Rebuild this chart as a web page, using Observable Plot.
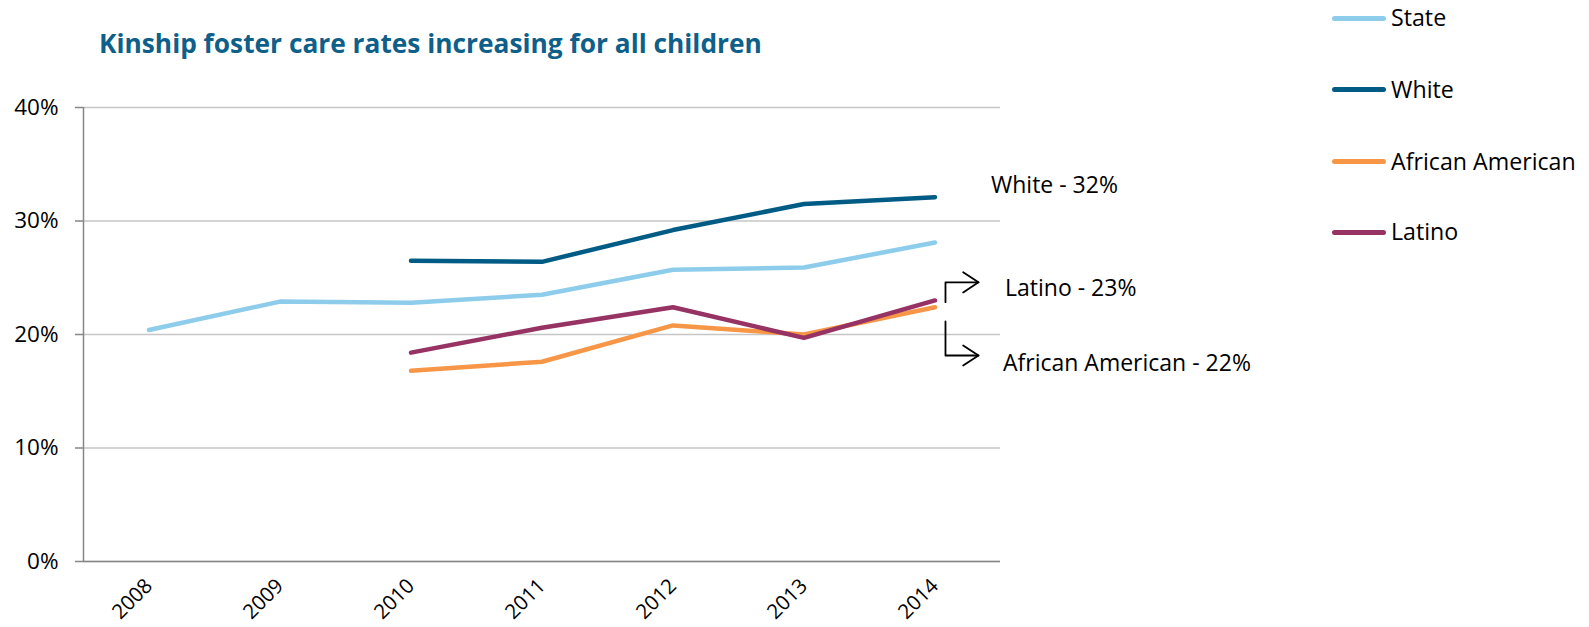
<!DOCTYPE html>
<html><head><meta charset="utf-8">
<script src="https://cdn.jsdelivr.net/npm/d3@7"></script>
<script src="https://cdn.jsdelivr.net/npm/@observablehq/plot@0.6"></script>
<style>
html,body{margin:0;padding:0;background:#fff;}
#wrap{position:relative;width:1589px;height:627px;overflow:hidden;font-family:"Open Sans",Lato,sans-serif;color:#000;}
#chart{position:absolute;left:0;top:0;}
#title{position:absolute;left:99px;top:44px;transform:translateY(-50%);font-weight:700;color:#0E5F89;font-size:26.3px;white-space:nowrap;line-height:1.2;}
.leg{position:absolute;left:1332px;display:flex;align-items:center;transform:translateY(-50%);font-size:23.2px;white-space:nowrap;line-height:1.2;}
.leg .sw{width:54px;height:5px;border-radius:3px;margin-right:5px;}
</style></head>
<body>
<div id="wrap">
  <div id="chart"></div>
  <div id="title">Kinship foster care rates increasing for all children</div>
  <div id="legend"></div>
</div>
<script>
// ---- data ----
const years = [2008, 2009, 2010, 2011, 2012, 2013, 2014];
const seriesNames = ["State", "White", "African American", "Latino"];
const seriesColors = ["#8DCDEB", "#005B85", "#F79646", "#963264"];
const state = [20.4, 22.9, 22.8, 23.5, 25.7, 25.9, 28.1];
const white = [null, null, 26.5, 26.4, 29.2, 31.5, 32.1];
const africanAmerican = [null, null, 16.8, 17.6, 20.8, 20.0, 22.4];
const latino = [null, null, 18.4, 20.6, 22.4, 19.7, 23.0];
const yTicks = [0, 10, 20, 30, 40];
const endLabels = ["White - 32%", "Latino - 23%", "African American - 22%"];
// annotation arrow geometry (data units: year, percent)
const latinoArrow = [{x: 2014.08, y: 22.85}, {x: 2014.08, y: 24.6}, {x: 2014.332, y: 24.6}];
const latinoHead = [{x: 2014.215, y: 25.49}, {x: 2014.332, y: 24.6}, {x: 2014.215, y: 23.71}];
const aaArrow = [{x: 2014.08, y: 21.15}, {x: 2014.08, y: 18.15}, {x: 2014.332, y: 18.15}];
const aaHead = [{x: 2014.215, y: 19.04}, {x: 2014.332, y: 18.15}, {x: 2014.215, y: 17.26}];

const seriesValues = [state, white, africanAmerican, latino];
const rows = [];
seriesNames.forEach((s, k) => years.forEach((yr, i) => {
  const v = seriesValues[k][i];
  if (v != null) rows.push({series: s, year: yr, value: v});
}));
const last = (arr) => ({year: years[years.length - 1], value: arr[arr.length - 1]});

const fs = 23;
const plot = Plot.plot({
  width: 1589, height: 627,
  marginLeft: 83, marginRight: 589, marginTop: 107, marginBottom: 66,
  style: {fontFamily: "'Open Sans', Lato, sans-serif", fontSize: fs + "px", color: "#000", background: "#fff"},
  x: {type: "linear", domain: [2007.5, 2014.5]},
  y: {domain: [0, 40]},
  color: {domain: seriesNames, range: seriesColors},
  marks: [
    Plot.gridY(yTicks, {stroke: "#C6C6C6", strokeOpacity: 1, strokeWidth: 1.5}),
    Plot.ruleY([0], {stroke: "#868686", strokeWidth: 1.5}),
    Plot.ruleX([2007.5], {stroke: "#868686", strokeWidth: 1.5}),
    Plot.axisY(yTicks, {tickSize: 8, tickPadding: 17, stroke: "#868686", strokeWidth: 1.5, fill: "#000", tickFormat: d => d + "%", fontSize: 22.5, label: null}),
    Plot.axisX(years, {tickSize: 0, tickPadding: 21, tickRotate: -45, tickFormat: d => String(d), fill: "#000", fontSize: 20.5, label: null}),
    Plot.line(rows, {x: "year", y: "value", z: "series", stroke: "series", strokeWidth: 4.5, strokeLinecap: "round", strokeLinejoin: "round"}),
    Plot.text([last(white)], {x: "year", y: "value", text: () => endLabels[0], textAnchor: "start", dx: 56, dy: -12, fontSize: fs, fill: "#000"}),
    Plot.text([last(latino)], {x: "year", y: "value", text: () => endLabels[1], textAnchor: "start", dx: 70, dy: -12, fontSize: fs, fill: "#000"}),
    Plot.text([last(africanAmerican)], {x: "year", y: "value", text: () => endLabels[2], textAnchor: "start", dx: 68, dy: 56, fontSize: fs, fill: "#000"}),
    Plot.line(latinoArrow, {x: "x", y: "y", stroke: "#000", strokeWidth: 1.8}),
    Plot.line(latinoHead, {x: "x", y: "y", stroke: "#000", strokeWidth: 1.8}),
    Plot.line(aaArrow, {x: "x", y: "y", stroke: "#000", strokeWidth: 1.8}),
    Plot.line(aaHead, {x: "x", y: "y", stroke: "#000", strokeWidth: 1.8})
  ]
});
document.getElementById("chart").appendChild(plot);

// legend
const legendY = [18.3, 90, 161.7, 232.3];
const legend = document.getElementById("legend");
seriesNames.forEach((s, i) => {
  const d = document.createElement("div");
  d.className = "leg";
  d.style.top = legendY[i] + "px";
  d.innerHTML = `<div class="sw" style="background:${seriesColors[i]}"></div><span>${s}</span>`;
  legend.appendChild(d);
});
</script>
</body></html>
